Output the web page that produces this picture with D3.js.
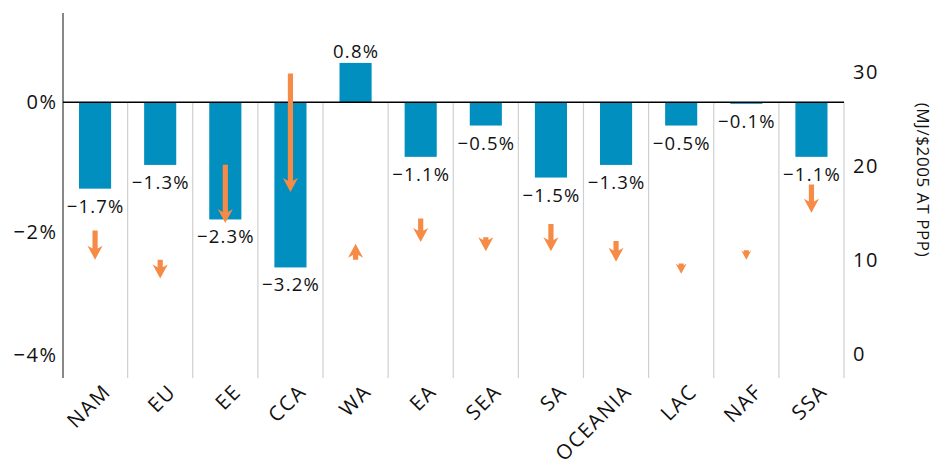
<!DOCTYPE html>
<html>
<head>
<meta charset="utf-8">
<script src="https://cdn.jsdelivr.net/npm/d3@7/dist/d3.min.js"></script>
<style>
  body { margin: 0; background: #fff; }
  svg text { font-family: "Open Sans", "Noto Sans", sans-serif; fill: #111; }
</style>
</head>
<body>
<div id="chart"></div>
<script>
// regions
const regions = ["NAM", "EU", "EE", "CCA", "WA", "EA", "SEA", "SA", "OCEANIA", "LAC", "NAF", "SSA"];
// annual change of energy intensity, % (bar height as drawn)
const changePct = [-1.71, -1.24, -2.32, -3.27, 0.78, -1.08, -0.46, -1.49, -1.24, -0.46, -0.03, -1.08];
// printed labels on the bars
const changeLabels = ["\u22121.7%", "\u22121.3%", "\u22122.3%", "\u22123.2%", "0.8%", "\u22121.1%", "\u22120.5%", "\u22121.5%", "\u22121.3%", "\u22120.5%", "\u22120.1%", "\u22121.1%"];
// energy intensity, MJ/$2005 at PPP: start and end of each arrow
const intensityStart = [13.1, 10.0, 20.1, 29.8, 10.0, 14.4, 12.4, 13.8, 12.0, 9.6, 11.0, 18.0];
const intensityEnd = [10.0, 8.0, 13.9, 17.2, 11.7, 11.9, 10.9, 10.9, 9.8, 8.5, 10.0, 15.0];
// axis ticks
const leftTicks = [0, -2, -4];
const rightTicks = [0, 10, 20, 30];

const W = 935, H = 460;
const blue = "#008fbe";
const orange = "#f68b47";

const svg = d3.select("#chart")
    .append("svg")
    .attr("width", W)
    .attr("height", H);

const x = d3.scaleBand()
    .domain(regions)
    .range([62.5, 844])
    .paddingInner(0.507)
    .paddingOuter(0.2535);

// bar scale (pixels per percent as drawn in the original)
const yBar = d3.scaleLinear()
    .domain([-1, 0])
    .range([152.8, 102.3]);

// left axis labels sit at their own positions
const yLeft = d3.scaleLinear()
    .domain([-4, -2, 0])
    .range([355.4, 231.7, 102]);

const yRight = d3.scaleLinear()
    .domain([0, 30])
    .range([353.8, 71.7]);

const data = regions.map((r, i) => ({
    region: r,
    value: changePct[i],
    label: changeLabels[i],
    from: intensityStart[i],
    to: intensityEnd[i]
}));

// separators
svg.append("g")
    .selectAll("line")
    .data(data)
    .enter()
    .append("line")
    .attr("x1", d => x(d.region) + x.bandwidth() / 2 + x.step() / 2)
    .attr("x2", d => x(d.region) + x.bandwidth() / 2 + x.step() / 2)
    .attr("y1", yBar(0))
    .attr("y2", 378)
    .attr("stroke", "#cfcfcf")
    .attr("stroke-width", 1.2);

// left axis line
svg.append("line")
    .attr("x1", 63).attr("x2", 63)
    .attr("y1", 13).attr("y2", 378)
    .attr("stroke", "#555")
    .attr("stroke-width", 1.4);

// bars
svg.append("g")
    .selectAll("rect")
    .data(data)
    .enter()
    .append("rect")
    .attr("fill", blue)
    .attr("x", d => x(d.region))
    .attr("width", x.bandwidth())
    .attr("y", d => yBar(Math.max(0, d.value)))
    .attr("height", d => Math.abs(yBar(d.value) - yBar(0)));

// zero line
svg.append("line")
    .attr("x1", 63).attr("x2", 844)
    .attr("y1", yBar(0)).attr("y2", yBar(0))
    .attr("stroke", "#000")
    .attr("stroke-width", 1.5);

// bar labels
svg.append("g")
    .selectAll("text")
    .data(data)
    .enter()
    .append("text")
    .attr("x", d => x(d.region) + x.bandwidth() / 2 + 0.6)
    .attr("y", d => d.value < 0 ? yBar(d.value) + 24 : yBar(d.value) - 5)
    .attr("text-anchor", "middle")
    .style("font-size", "18.5px")
    .style("letter-spacing", "1.2px")
    .text(d => d.label);

// arrows
function arrowPath(d) {
    const cx = x(d.region) + x.bandwidth() / 2;
    const y0 = yRight(d.from);
    const y1 = yRight(d.to);
    const s = y1 > y0 ? 1 : -1;
    const len = Math.abs(y1 - y0);
    const hl = Math.min(14, len);
    const hw = hl * 0.54;
    const notch = hl * 0.2;
    const sw = 2.6;
    return [
        "M", cx - sw, y0,
        "L", cx - sw, y1 - s * (hl - notch),
        "L", cx - hw, y1 - s * hl,
        "L", cx, y1,
        "L", cx + hw, y1 - s * hl,
        "L", cx + sw, y1 - s * (hl - notch),
        "L", cx + sw, y0, "Z"
    ].join(" ");
}

svg.append("g")
    .selectAll("path")
    .data(data)
    .enter()
    .append("path")
    .attr("d", arrowPath)
    .attr("fill", orange);

// left axis labels
svg.append("g")
    .selectAll("text")
    .data(leftTicks)
    .enter()
    .append("text")
    .attr("x", 57.5)
    .attr("y", d => yLeft(d))
    .attr("dy", "0.35em")
    .attr("text-anchor", "end")
    .style("font-size", "20px")
    .style("letter-spacing", "1.5px")
    .text(d => (d < 0 ? "\u2212" + Math.abs(d) : d) + "%");

// right axis labels
svg.append("g")
    .selectAll("text")
    .data(rightTicks)
    .enter()
    .append("text")
    .attr("x", 853)
    .attr("y", d => yRight(d))
    .attr("dy", "0.35em")
    .attr("text-anchor", "start")
    .style("font-size", "20px")
    .style("letter-spacing", "1.5px")
    .text(d => d);

// right axis title
svg.append("text")
    .attr("transform", "translate(917,180) rotate(90)")
    .attr("text-anchor", "middle")
    .style("font-size", "17px")
    .style("letter-spacing", "0.6px")
    .text("(MJ/$2005 AT PPP)");

// category labels
svg.append("g")
    .selectAll("text")
    .data(regions)
    .enter()
    .append("text")
    .attr("transform", d => `translate(${x(d) + x.bandwidth() / 2 + 17},393) rotate(-45)`)
    .attr("text-anchor", "end")
    .style("font-size", "20.5px")
    .style("letter-spacing", "1.5px")
    .text(d => d);
</script>
</body>
</html>
